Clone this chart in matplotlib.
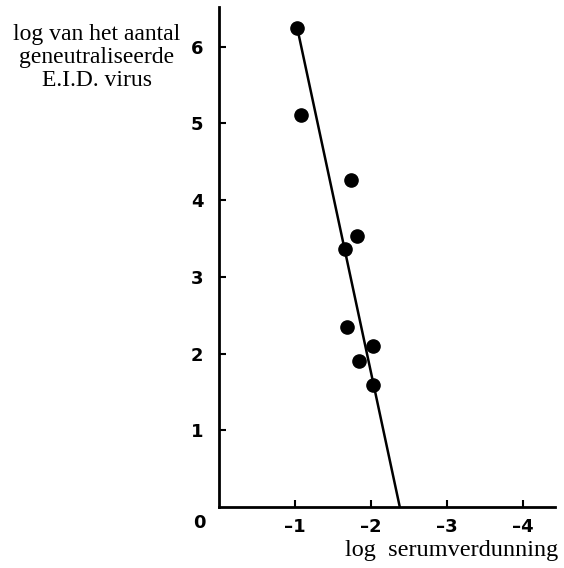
import matplotlib
matplotlib.use('Agg')
import matplotlib.pyplot as plt

# log serum dilution (negative) and log of neutralised E.I.D. virus
dilution = [-1.03, -1.08, -1.74, -1.82, -1.66, -1.68, -2.03, -1.84, -2.03]
neutralised = [6.25, 5.11, 4.26, 3.53, 3.36, 2.35, 2.10, 1.91, 1.59]

# fitted line end points
line_x = [-1.03, -2.38]
line_y = [6.25, 0.0]

xticks = [-1, -2, -3, -4]
xtick_labels = ['\u20131', '\u20132', '\u20133', '\u20134']
yticks = [1, 2, 3, 4, 5, 6]

fig = plt.figure(figsize=(5.64, 5.68), dpi=100)
ax = fig.add_axes([0.388, 0.107, 0.596, 0.881])

ax.plot(line_x, line_y, color='black', lw=1.8, zorder=2)
ax.plot(dilution, neutralised, 'o', color='black', ms=9.5, zorder=3)

ax.set_xlim(0, -4.42)
ax.set_ylim(0, 6.52)

for side in ['top', 'right']:
    ax.spines[side].set_visible(False)
for side in ['left', 'bottom']:
    ax.spines[side].set_linewidth(2)

ax.set_xticks(xticks)
ax.set_xticklabels(xtick_labels)
ax.set_yticks(yticks)
ax.tick_params(direction='in', length=5, width=1.5, labelsize=13)
ax.tick_params(axis='x', pad=8)
ax.tick_params(axis='y', pad=11)
for lab in ax.get_xticklabels() + ax.get_yticklabels():
    lab.set_fontweight('bold')

# origin label
ax.text(0.25, -0.2, '0', ha='center', va='center', fontsize=13,
        fontweight='bold', clip_on=False)

serif = 'Liberation Serif'
fig.text(0.172, 0.958, 'log van het aantal\ngeneutraliseerde\nE.I.D. virus',
         ha='center', va='top', fontsize=17, family=serif, linespacing=1.12)
fig.text(0.99, 0.03, 'log  serumverdunning', ha='right', va='center',
         fontsize=17.5, family=serif)

fig.savefig('out.png', dpi=100)
